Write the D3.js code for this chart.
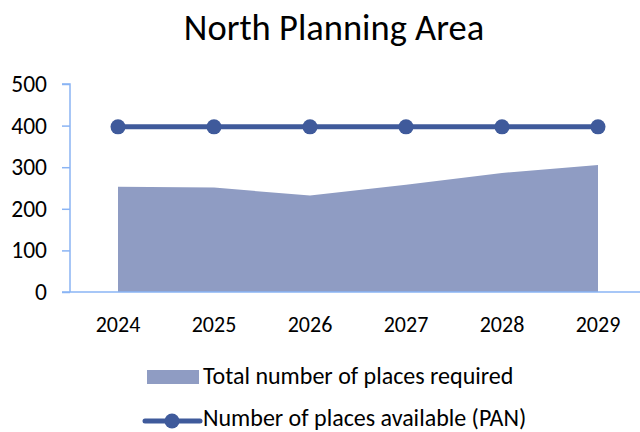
<!DOCTYPE html>
<html>
<head>
<meta charset="utf-8">
<script src="https://cdn.jsdelivr.net/npm/d3@7"></script>
<style>
  html, body { margin: 0; padding: 0; background: #fff; }
  svg { display: block; }
  text { font-family: Calibri, Carlito, Lato, sans-serif; fill: #000; }
</style>
</head>
<body>
<svg id="chart" width="640" height="432"></svg>
<script>
// Chart data
const years = ["2024", "2025", "2026", "2027", "2028", "2029"];
const placesRequired = [253, 251, 232, 258, 286, 305];
const placesAvailable = [397, 397, 397, 397, 397, 397];
const yTicks = [0, 100, 200, 300, 400, 500];

const titleText = "North Planning Area";
const seriesNames = ["Total number of places required", "Number of places available (PAN)"];

const areaColor = "#8f9cc3";
const lineColor = "#3f5a9b";
const axisColor = "#8ab4f4";

const svg = d3.select("#chart");

const plot = { left: 70, right: 646, top: 84, bottom: 292 };

const x = d3.scaleBand().domain(years).range([plot.left, plot.right]);
const cx = d => x(d) + x.bandwidth() / 2;
const y = d3.scaleLinear().domain([0, 500]).range([plot.bottom, plot.top]);

// Title
svg.append("text")
  .attr("x", 334).attr("y", 40)
  .attr("text-anchor", "middle")
  .style("font-size", "36.5px")
  .text(titleText);

// Area series
const rows = years.map((yr, i) => ({ yr, req: placesRequired[i], avail: placesAvailable[i] }));
svg.append("path")
  .datum(rows)
  .attr("fill", areaColor)
  .attr("d", d3.area().x(d => cx(d.yr)).y0(y(0)).y1(d => y(d.req)));

// Y axis
const yAxis = svg.append("g")
  .attr("transform", `translate(${plot.left},0)`)
  .call(d3.axisLeft(y).tickValues(yTicks).tickSize(8).tickPadding(15).tickFormat(d3.format("d")));
yAxis.select(".domain").attr("stroke", axisColor).attr("stroke-width", 1.5).attr("d", `M-8,${y(500)}H0V${y(0)}`);
yAxis.selectAll(".tick line").attr("stroke", axisColor).attr("stroke-width", 1.5);
yAxis.selectAll(".tick text").style("font-size", "23.5px").attr("fill", "#000");

// X axis
const xAxis = svg.append("g")
  .attr("transform", `translate(0,${plot.bottom})`)
  .call(d3.axisBottom(x).tickSize(0).tickPadding(24));
xAxis.select(".domain").attr("stroke", axisColor).attr("stroke-width", 1.5).attr("d", `M${plot.left - 8},0H640`);
xAxis.selectAll(".tick text").style("font-size", "22px").attr("fill", "#000");

// Line series with markers
svg.append("path")
  .datum(rows)
  .attr("fill", "none")
  .attr("stroke", lineColor)
  .attr("stroke-width", 5)
  .attr("d", d3.line().x(d => cx(d.yr)).y(d => y(d.avail)));
svg.selectAll("circle.pt")
  .data(rows)
  .join("circle")
  .attr("class", "pt")
  .attr("cx", d => cx(d.yr))
  .attr("cy", d => y(d.avail))
  .attr("r", 7.5)
  .attr("fill", lineColor);

// Legend
const lg = svg.append("g");
lg.append("rect").attr("x", 147).attr("y", 370).attr("width", 52).attr("height", 14).attr("fill", areaColor);
lg.append("text").attr("x", 203).attr("y", 384).style("font-size", "24px").text(seriesNames[0]);
lg.append("line").attr("x1", 145).attr("x2", 200).attr("y1", 421).attr("y2", 421)
  .attr("stroke", lineColor).attr("stroke-width", 5).attr("stroke-linecap", "round");
lg.append("circle").attr("cx", 172).attr("cy", 421).attr("r", 7.5).attr("fill", lineColor);
lg.append("text").attr("x", 203).attr("y", 426).style("font-size", "24px").text(seriesNames[1]);
</script>
</body>
</html>
